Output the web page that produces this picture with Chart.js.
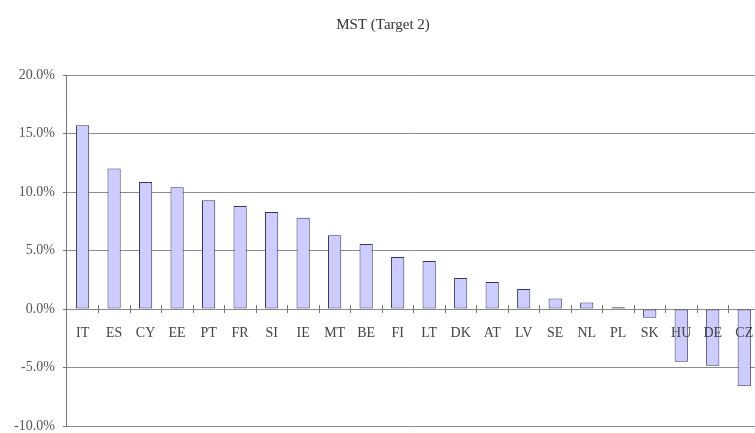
<!DOCTYPE html>
<html>
<head>
<meta charset="utf-8">
<script src="https://cdn.jsdelivr.net/npm/chart.js@4"></script>
<style>
  html, body { margin: 0; padding: 0; background: #fff; overflow: hidden; }
  #wrap { width: 762px; height: 441px; }
</style>
</head>
<body>
<div id="wrap"><canvas id="myChart"></canvas></div>
<script>
const countries = ['IT', 'ES', 'CY', 'EE', 'PT', 'FR', 'SI', 'IE', 'MT', 'BE', 'FI',
  'LT', 'DK', 'AT', 'LV', 'SE', 'NL', 'PL', 'SK', 'HU', 'DE', 'CZ'];
const mst = [15.7, 12.0, 10.85, 10.4, 9.3, 8.8, 8.3, 7.8, 6.3, 5.55, 4.45,
  4.1, 2.65, 2.3, 1.7, 0.9, 0.55, 0.15, -0.75, -4.5, -4.85, -6.6];
const yTicks = [-10, -5, 0, 5, 10, 15, 20];
const titleText = 'MST (Target 2)';

const serif = '"Liberation Serif", "Times New Roman", serif';

// small tick marks crossing the zero line between categories
const crossTicks = {
  id: 'crossTicks',
  afterDatasetsDraw(chart) {
    const x = chart.scales.x, y = chart.scales.y;
    const y0 = y.getPixelForValue(0);
    const step = x.getPixelForValue(1) - x.getPixelForValue(0);
    const ctx = chart.ctx;
    ctx.save();
    ctx.strokeStyle = '#777';
    ctx.lineWidth = 1;
    ctx.beginPath();
    for (let i = 1; i < countries.length; i++) {
      const px = Math.round(x.getPixelForValue(i) - step / 2) + 0.5;
      ctx.moveTo(px, y0 - 4);
      ctx.lineTo(px, y0 + 4);
    }
    ctx.stroke();
    ctx.restore();
  }
};

const data = {
  labels: countries,
  datasets: [{
    label: 'MST',
    data: mst,
    backgroundColor: 'rgb(204, 204, 255)',
    borderColor: '#35356a',
    borderWidth: 1,
    borderSkipped: false,
    barPercentage: 0.42,
    categoryPercentage: 1
  }]
};

const config = {
  type: 'bar',
  data: data,
  plugins: [crossTicks],
  options: {
    responsive: true,
    maintainAspectRatio: false,
    animation: false,
    layout: { padding: { left: 6, right: 2, top: 0, bottom: 0 } },
    plugins: {
      legend: { display: false },
      tooltip: { enabled: false },
      title: {
        display: true,
        text: titleText,
        color: '#333',
        font: { family: serif, size: 15, weight: 'normal' },
        padding: { top: 16, bottom: 41 }
      }
    },
    scales: {
      x: {
        position: { y: 0 },
        grid: { display: false },
        border: { display: true, color: '#888', width: 1 },
        ticks: {
          z: 1,
          color: '#444',
          font: { family: serif, size: 14 },
          padding: 8,
          maxRotation: 0,
          autoSkip: false
        }
      },
      y: {
        min: -10,
        max: 20,
        afterBuildTicks(axis) {
          axis.ticks = yTicks.map(v => ({ value: v }));
        },
        grid: {
          color: '#8c8c8c',
          lineWidth: 1,
          tickLength: 4,
          tickColor: '#777'
        },
        border: { display: true, color: '#777', width: 1 },
        ticks: {
          color: '#555',
          font: { family: serif, size: 14, lineHeight: 1 },
          padding: 8,
          callback: v => v.toFixed(1) + '%'
        }
      }
    }
  }
};

const myChart = new Chart(document.getElementById('myChart'), config);
</script>
</body>
</html>
